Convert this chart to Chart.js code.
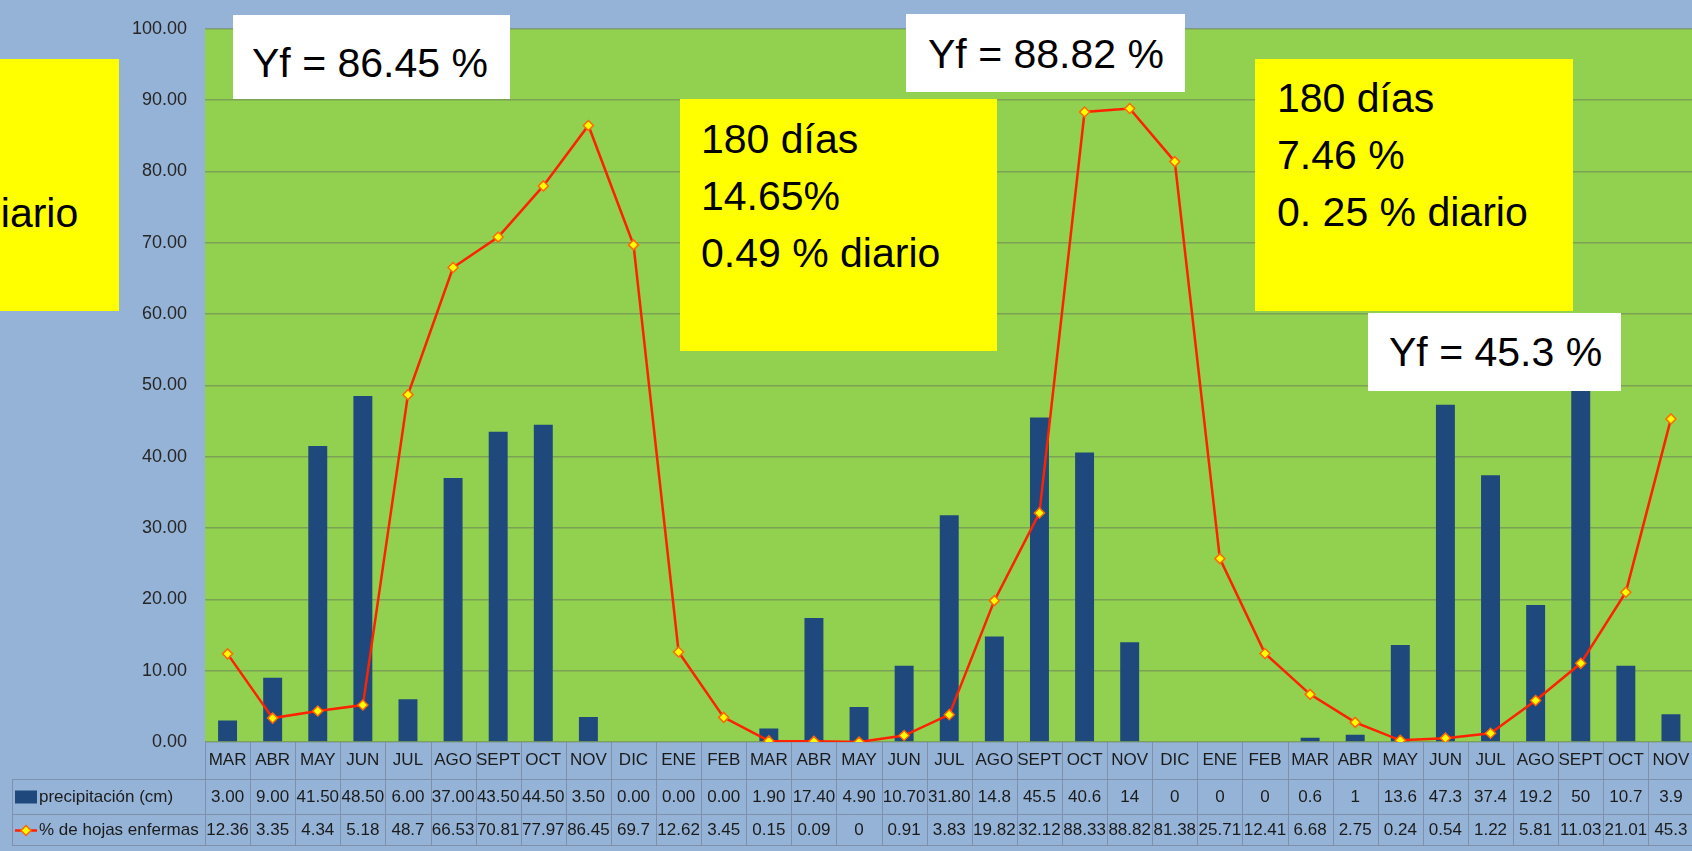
<!DOCTYPE html>
<html>
<head>
<meta charset="utf-8">
<script src="https://cdn.jsdelivr.net/npm/chart.js@4.4.1/dist/chart.umd.min.js"></script>
<style>
html,body{margin:0;padding:0;background:#95B3D7;overflow:hidden;width:1692px;height:851px;}
#wrap{position:relative;width:1700px;height:851px;}
canvas{position:absolute;left:0;top:0;}
.box{position:absolute;overflow:hidden;}
.white{background:#ffffff;}
.yellow{background:#ffff00;}
.t{position:absolute;font-family:'Liberation Sans',Arial,sans-serif;font-size:41px;line-height:57px;color:#000;white-space:pre;}
</style>
</head>
<body>
<div id="wrap">
<canvas id="c" width="1700" height="851"></canvas>
<div class="box yellow" style="left:0;top:59px;width:119px;height:252px;"><div class="t" style="left:-22px;top:126px;">diario</div></div>
<div class="box white" style="left:233px;top:15px;width:277px;height:84px;"><div class="t" style="left:19px;top:20px;">Yf = 86.45 %</div></div>
<div class="box yellow" style="left:680px;top:99px;width:317px;height:252px;"><div class="t" style="left:21px;top:12px;">180 días
14.65%
0.49 % diario</div></div>
<div class="box white" style="left:906px;top:14px;width:279px;height:78px;"><div class="t" style="left:22px;top:12px;">Yf = 88.82 %</div></div>
<div class="box yellow" style="left:1255px;top:59px;width:318px;height:252px;"><div class="t" style="left:22px;top:11px;">180 días
7.46 %
0. 25 % diario</div></div>
<div class="box white" style="left:1368px;top:313px;width:253px;height:78px;"><div class="t" style="left:21px;top:11px;">Yf = 45.3 %</div></div>
</div>
<script>
const months = ['MAR','ABR','MAY','JUN','JUL','AGO','SEPT','OCT','NOV','DIC','ENE','FEB',
                'MAR','ABR','MAY','JUN','JUL','AGO','SEPT','OCT','NOV','DIC','ENE','FEB',
                'MAR','ABR','MAY','JUN','JUL','AGO','SEPT','OCT','NOV'];
const precipText = ['3.00','9.00','41.50','48.50','6.00','37.00','43.50','44.50','3.50','0.00','0.00','0.00',
                    '1.90','17.40','4.90','10.70','31.80','14.8','45.5','40.6','14','0','0','0',
                    '0.6','1','13.6','47.3','37.4','19.2','50','10.7','3.9'];
const diseaseText = ['12.36','3.35','4.34','5.18','48.7','66.53','70.81','77.97','86.45','69.7','12.62','3.45',
                     '0.15','0.09','0','0.91','3.83','19.82','32.12','88.33','88.82','81.38','25.71','12.41',
                     '6.68','2.75','0.24','0.54','1.22','5.81','11.03','21.01','45.3'];
const precipValues = precipText.map(Number);
const diseaseValues = diseaseText.map(Number);
const seriesNames = ['precipitación (cm)', '% de hojas enfermas'];
const yTicks = [0,10,20,30,40,50,60,70,80,90,100];

const FONT = "'Liberation Sans', Arial, sans-serif";
const BAR_COLOR = '#1F497D';
const LINE_COLOR = '#FF2200';
const TABLE_LINE = '#7f90ad';

const bgPlugin = {
  id: 'bg',
  beforeDraw(chart) {
    const {ctx, chartArea: a} = chart;
    ctx.save();
    ctx.fillStyle = '#92D050';
    ctx.fillRect(a.left, a.top, a.right - a.left, a.bottom - a.top);
    ctx.restore();
  }
};

const tablePlugin = {
  id: 'table',
  afterDraw(chart) {
    const {ctx, chartArea: a, scales: {x}} = chart;
    const n = months.length;
    const step = x.getPixelForValue(1) - x.getPixelForValue(0);
    const b = a.bottom;
    const r1 = b + 37, r2 = b + 72, r3 = b + 103;
    const tLeft = 12;
    ctx.save();
    ctx.strokeStyle = TABLE_LINE;
    ctx.lineWidth = 1;
    const ln = (x1, y1, x2, y2) => { ctx.beginPath(); ctx.moveTo(x1, y1); ctx.lineTo(x2, y2); ctx.stroke(); };
    [r1, r2, r3].forEach(y => ln(tLeft, y + 0.5, a.right, y + 0.5));
    ln(tLeft + 0.5, r1, tLeft + 0.5, r3);
    for (let i = 0; i <= n; i++) {
      const xx = Math.round(x.getPixelForValue(i) - step / 2) + 0.5;
      ln(xx, b, xx, r3);
    }
    ctx.fillStyle = '#1b1b1b';
    ctx.font = '17px ' + FONT;
    ctx.textAlign = 'center';
    ctx.textBaseline = 'middle';
    for (let i = 0; i < n; i++) {
      const cx = x.getPixelForValue(i);
      ctx.fillText(precipText[i], cx, (r1 + r2) / 2 + 1);
      ctx.fillText(diseaseText[i], cx, (r2 + r3) / 2 + 1);
    }
    // legend keys
    ctx.textAlign = 'left';
    ctx.fillText(seriesNames[0], 39, (r1 + r2) / 2 + 1);
    ctx.fillText(seriesNames[1], 39, (r2 + r3) / 2 + 1);
    ctx.fillStyle = BAR_COLOR;
    ctx.fillRect(15, (r1 + r2) / 2 - 6, 22, 13);
    const ly = (r2 + r3) / 2 + 1;
    ctx.strokeStyle = LINE_COLOR;
    ctx.lineWidth = 2.5;
    ln(15, ly, 37, ly);
    ctx.beginPath();
    ctx.moveTo(26, ly - 5); ctx.lineTo(31, ly); ctx.lineTo(26, ly + 5); ctx.lineTo(21, ly); ctx.closePath();
    ctx.fillStyle = '#FFFF00';
    ctx.fill();
    ctx.strokeStyle = '#FF6a00';
    ctx.lineWidth = 1.5;
    ctx.stroke();
    ctx.restore();
  }
};

new Chart(document.getElementById('c'), {
  data: {
    labels: months,
    datasets: [
      {
        type: 'line',
        label: seriesNames[1],
        data: diseaseValues,
        borderColor: LINE_COLOR,
        borderWidth: 2.5,
        pointStyle: 'rectRot',
        pointRadius: 5,
        pointBackgroundColor: '#FFFF00',
        pointBorderColor: '#FF6a00',
        pointBorderWidth: 1.5,
        tension: 0,
        order: 0
      },
      {
        type: 'bar',
        label: seriesNames[0],
        data: precipValues,
        backgroundColor: BAR_COLOR,
        borderWidth: 0,
        categoryPercentage: 1,
        barPercentage: 0.42,
        order: 1
      }
    ]
  },
  options: {
    responsive: false,
    animation: false,
    devicePixelRatio: 1,
    layout: {padding: {top: 22, right: 4, left: 0, bottom: 0}},
    plugins: {legend: {display: false}, tooltip: {enabled: false}},
    scales: {
      x: {
        type: 'category',
        offset: true,
        grid: {display: false, drawTicks: false},
        border: {display: false},
        ticks: {font: {size: 17, family: FONT}, color: '#1b1b1b', padding: 8, maxRotation: 0, autoSkip: false},
        afterFit(s) { s.height = 109; }
      },
      y: {
        min: 0, max: 100,
        afterBuildTicks(s) { s.ticks = yTicks.map(v => ({value: v})); },
        grid: {color: 'rgba(105,125,90,0.55)', lineWidth: 1.5, drawTicks: false},
        border: {display: false},
        ticks: {font: {size: 18, family: FONT}, color: '#262626', padding: 18, callback: v => Number(v).toFixed(2)},
        afterFit(s) { s.width = 205; }
      }
    }
  },
  plugins: [bgPlugin, tablePlugin]
});
</script>
</body>
</html>
